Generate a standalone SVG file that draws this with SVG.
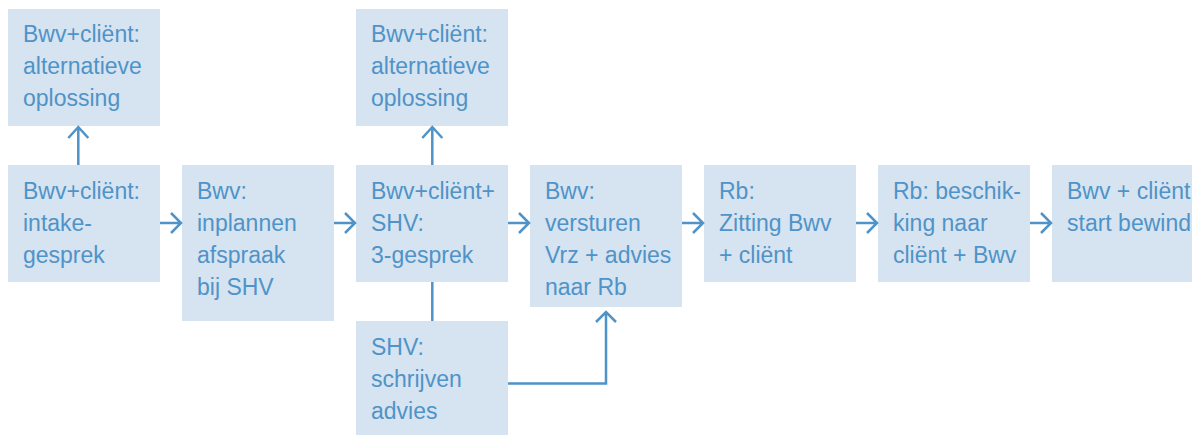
<svg xmlns="http://www.w3.org/2000/svg" width="1192" height="435" viewBox="0 0 1192 435">
<style>
.box{fill:#d6e3f0;}
.t{font-family:"Liberation Sans",Arial,sans-serif;font-size:23px;fill:#4f93c8;}
.ln{fill:none;stroke:#4f93c8;stroke-width:2.5;stroke-linejoin:miter;}
</style>
<rect width="1192" height="435" fill="#ffffff"/>
<g id="alt1"><rect class="box" x="8" y="9" width="152" height="117"/>
<text class="t" x="23"><tspan x="23" y="42">Bwv+cliënt:</tspan><tspan x="23" y="74">alternatieve</tspan><tspan x="23" y="106">oplossing</tspan></text></g>
<g id="alt2"><rect class="box" x="356" y="9" width="152" height="117"/>
<text class="t"><tspan x="371" y="42">Bwv+cliënt:</tspan><tspan x="371" y="74">alternatieve</tspan><tspan x="371" y="106">oplossing</tspan></text></g>
<g id="intake"><rect class="box" x="8" y="165" width="152" height="117"/>
<text class="t"><tspan x="23" y="199">Bwv+cliënt:</tspan><tspan x="23" y="231">intake-</tspan><tspan x="23" y="263">gesprek</tspan></text></g>
<g id="inplannen"><rect class="box" x="182" y="165" width="152" height="156"/>
<text class="t"><tspan x="197" y="199">Bwv:</tspan><tspan x="197" y="231">inplannen</tspan><tspan x="197" y="263">afspraak</tspan><tspan x="197" y="295">bij SHV</tspan></text></g>
<g id="driegesprek"><rect class="box" x="356" y="165" width="152" height="117"/>
<text class="t"><tspan x="371" y="199">Bwv+cliënt+</tspan><tspan x="371" y="231">SHV:</tspan><tspan x="371" y="263">3-gesprek</tspan></text></g>
<g id="versturen"><rect class="box" x="530" y="165" width="152" height="142"/>
<text class="t"><tspan x="545" y="199">Bwv:</tspan><tspan x="545" y="231">versturen</tspan><tspan x="545" y="263">Vrz + advies</tspan><tspan x="545" y="295">naar Rb</tspan></text></g>
<g id="zitting"><rect class="box" x="704" y="165" width="152" height="117"/>
<text class="t"><tspan x="719" y="199">Rb:</tspan><tspan x="719" y="231">Zitting Bwv</tspan><tspan x="719" y="263">+ cliënt</tspan></text></g>
<g id="beschikking"><rect class="box" x="878" y="165" width="152" height="117"/>
<text class="t"><tspan x="893" y="199">Rb: beschik-</tspan><tspan x="893" y="231">king naar</tspan><tspan x="893" y="263">cliënt + Bwv</tspan></text></g>
<g id="start"><rect class="box" x="1052" y="165" width="160" height="117"/>
<text class="t"><tspan x="1067" y="199">Bwv + cliënt</tspan><tspan x="1067" y="231">start bewind</tspan></text></g>
<g id="schrijven"><rect class="box" x="356" y="321" width="152" height="120"/>
<text class="t"><tspan x="371" y="355">SHV:</tspan><tspan x="371" y="387">schrijven</tspan><tspan x="371" y="419">advies</tspan></text></g>
<g id="connectors" class="ln">
<path d="M78.3 165V127M68.3 138L78.3 127L88.3 138"/>
<path d="M432.3 165V127M422.3 138L432.3 127L442.3 138"/>
<path d="M160 223H181M171 213L181 223L171 233"/>
<path d="M334 223H355M345 213L355 223L345 233"/>
<path d="M508 223H529M519 213L529 223L519 233"/>
<path d="M682 223H703M693 213L703 223L693 233"/>
<path d="M856 223H877M867 213L877 223L867 233"/>
<path d="M1030 223H1051M1041 213L1051 223L1041 233"/>
<path d="M432.3 282V321"/>
<path d="M508 383.5H606V312M596 322L606 312L616 322"/>
</g>
</svg>
